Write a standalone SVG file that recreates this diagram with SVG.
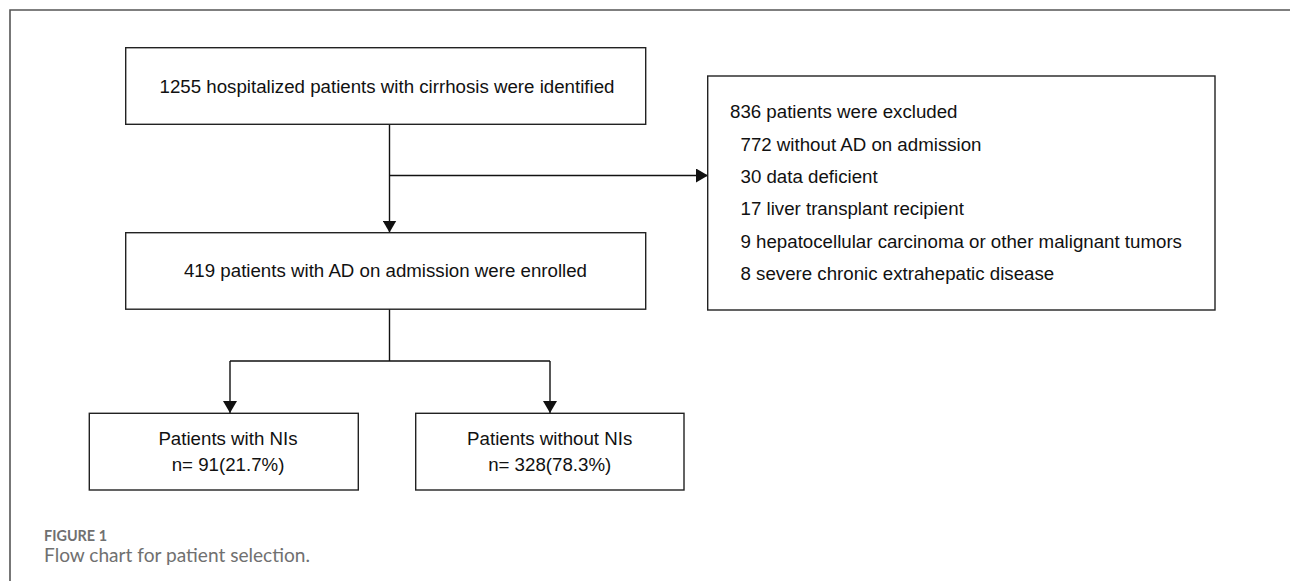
<svg xmlns="http://www.w3.org/2000/svg" width="1290" height="581" viewBox="0 0 1290 581">
<style>
.box{fill:#fff;stroke:#222;stroke-width:1.4}
.t{font-family:"Liberation Sans",Arial,sans-serif;font-size:18.7px;fill:#111}
.c{text-anchor:middle}
.ln{fill:none;stroke:#111;stroke-width:1.4}
.cap{font-family:Lato,"Open Sans",sans-serif;fill:#707070}
</style>
<defs>
<marker id="ah" viewBox="0 0 12 14" refX="12" refY="7" markerWidth="12" markerHeight="14" markerUnits="userSpaceOnUse" orient="auto">
<path d="M0,0 L12,7 L0,14 Z" fill="#111"/>
</marker>
</defs>
<rect width="1290" height="581" fill="#fff"/>
<path d="M10,581 V10 H1290" fill="none" stroke="#555" stroke-width="1.6"/>
<g id="connectors">
<path class="ln" d="M389.5,124 V232.5" marker-end="url(#ah)"/>
<path class="ln" d="M389.5,175.5 H708" marker-end="url(#ah)"/>
<path class="ln" d="M389.5,309 V361 M230,361 H550"/>
<path class="ln" d="M230,361 V413" marker-end="url(#ah)"/>
<path class="ln" d="M550,361 V413" marker-end="url(#ah)"/>
</g>
<g id="identified">
<rect class="box" x="125.7" y="47.7" width="520" height="76.6"/>
<text class="t c" x="387" y="93.3">1255 hospitalized patients with cirrhosis were identified</text>
</g>
<g id="enrolled">
<rect class="box" x="125.7" y="232.7" width="520" height="76.5"/>
<text class="t c" x="385.5" y="277">419 patients with AD on admission were enrolled</text>
</g>
<g id="excluded">
<rect class="box" x="707.7" y="76" width="507.3" height="234"/>
<text class="t" x="730" y="117.5">836 patients were excluded</text>
<text class="t" x="740.5" y="150.5">772 without AD on admission</text>
<text class="t" x="740.5" y="182.8">30 data deficient</text>
<text class="t" x="740.5" y="215.2">17 liver transplant recipient</text>
<text class="t" x="740.5" y="247.6">9 hepatocellular carcinoma or other malignant tumors</text>
<text class="t" x="740.5" y="280">8 severe chronic extrahepatic disease</text>
</g>
<g id="with-nis">
<rect class="box" x="89.3" y="413.3" width="269" height="76.7"/>
<text class="t c" x="228" y="445">Patients with NIs</text>
<text class="t c" x="228" y="471">n= 91(21.7%)</text>
</g>
<g id="without-nis">
<rect class="box" x="415.7" y="413.3" width="268.3" height="76.7"/>
<text class="t c" x="549.7" y="445">Patients without NIs</text>
<text class="t c" x="549.7" y="471">n= 328(78.3%)</text>
</g>
<text class="cap" x="44" y="541" font-size="14.5" font-weight="bold" fill="#5e5e5e" textLength="63" lengthAdjust="spacingAndGlyphs">FIGURE 1</text>
<text class="cap" x="44" y="562.3" font-size="18.5" textLength="266" lengthAdjust="spacingAndGlyphs">Flow chart for patient selection.</text>
</svg>
